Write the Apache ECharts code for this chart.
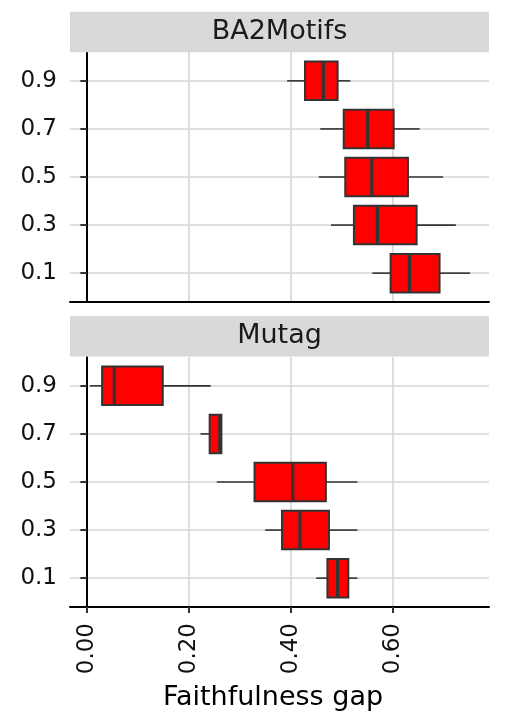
<!DOCTYPE html>
<html>
<head>
<meta charset="utf-8">
<script src="https://cdn.jsdelivr.net/npm/echarts@6/dist/echarts.min.js"></script>
<style>
html,body{margin:0;padding:0;background:#fff;}
#chart{width:507px;height:725px;}
</style>
</head>
<body>
<div id="chart"></div>
<script>
// Category labels (bottom to top)
const categories = ['0.1', '0.3', '0.5', '0.7', '0.9'];
const panels = ['BA2Motifs', 'Mutag'];
const xTicks = [0, 0.2, 0.4, 0.6];

// BA2Motifs boxplot stats, ordered as categories
const baLow    = [0.560, 0.479, 0.455, 0.458, 0.393];
const baQ1     = [0.596, 0.524, 0.507, 0.504, 0.428];
const baMedian = [0.633, 0.570, 0.559, 0.551, 0.464];
const baQ3     = [0.692, 0.647, 0.630, 0.602, 0.492];
const baHigh   = [0.752, 0.724, 0.699, 0.653, 0.517];

// Mutag boxplot stats, ordered as categories
const muLow    = [0.450, 0.350, 0.255, 0.223, 0.006];
const muQ1     = [0.472, 0.383, 0.329, 0.241, 0.030];
const muMedian = [0.492, 0.418, 0.404, 0.261, 0.054];
const muQ3     = [0.513, 0.475, 0.469, 0.264, 0.149];
const muHigh   = [0.531, 0.531, 0.531, 0.264, 0.243];

function rows(lo, q1, md, q3, hi) {
  return categories.map((c, i) => [i + 1, lo[i], q1[i], md[i], q3[i], hi[i]]);
}

const FONT = 'DejaVu Sans';
const BORDER = '#333333';
const GRID_COLOR = '#d6d6d6';

function renderBox(params, api) {
  const pos = api.value(0);
  const lo = api.value(1), q1 = api.value(2), md = api.value(3), q3 = api.value(4), hi = api.value(5);
  const h = api.size([0, 1])[1] * 0.8;
  const pLo = api.coord([lo, pos]);
  const pQ1 = api.coord([q1, pos]);
  const pMd = api.coord([md, pos]);
  const pQ3 = api.coord([q3, pos]);
  const pHi = api.coord([hi, pos]);
  const y = pQ1[1];
  const lineStyle = { stroke: BORDER, lineWidth: 1.6 };
  return {
    type: 'group',
    children: [
      { type: 'line', shape: { x1: pLo[0], y1: y, x2: pQ1[0], y2: y }, style: lineStyle },
      { type: 'line', shape: { x1: pQ3[0], y1: y, x2: pHi[0], y2: y }, style: lineStyle },
      { type: 'rect', shape: { x: pQ1[0], y: y - h / 2, width: pQ3[0] - pQ1[0], height: h },
        style: { fill: '#ff0000', stroke: BORDER, lineWidth: 2 } },
      { type: 'line', shape: { x1: pMd[0], y1: y - h / 2, x2: pMd[0], y2: y + h / 2 },
        style: { stroke: BORDER, lineWidth: 3.3 } }
    ]
  };
}

const grids = [
  { left: 70, right: 18, top: 52, height: 250 },
  { left: 70, right: 18, top: 357, height: 250 }
];

function xAxis(idx, showLabels) {
  return {
    type: 'value', gridIndex: idx, min: -0.033, max: 0.789,
    axisLine: { show: true, lineStyle: { color: '#000', width: 2 } },
    axisTick: { show: showLabels, length: 6, customValues: xTicks, lineStyle: { color: '#333', width: 2 } },
    axisLabel: { show: showLabels, customValues: xTicks, rotate: 90, margin: 16,
      fontFamily: FONT, fontSize: 23, color: '#111',
      formatter: v => v.toFixed(2) },
    splitLine: { show: true, lineStyle: { color: GRID_COLOR, width: 1.6 } }
  };
}

function yAxis(idx) {
  const vals = categories.map((c, i) => i + 1);
  return {
    type: 'value', gridIndex: idx, min: 0.4, max: 5.6,
    axisLine: { show: true, lineStyle: { color: '#000', width: 2 } },
    axisTick: { show: true, length: 6.5, customValues: vals, lineStyle: { color: '#333', width: 2 } },
    axisLabel: { show: true, customValues: vals, margin: 13, fontFamily: FONT, fontSize: 23, color: '#111',
      formatter: v => categories[Math.round(v) - 1] },
    splitLine: { show: true, lineStyle: { color: GRID_COLOR, width: 1.6 } }
  };
}

function strip(top, text) {
  return [
    { type: 'rect', left: 70, top: top, shape: { width: 419, height: 40.6 }, style: { fill: '#d9d9d9' }, z: 10 },
    { type: 'text', x: 279.5, y: top + 20.3, style: { text: text, fill: '#1a1a1a', font: '27px "DejaVu Sans"',
      align: 'center', verticalAlign: 'middle' }, z: 11 }
  ];
}

const chart = echarts.init(document.getElementById('chart'), null, { renderer: 'canvas' });
chart.setOption({
  animation: false,
  backgroundColor: '#ffffff',
  grid: grids,
  xAxis: [xAxis(0, false), xAxis(1, true)],
  yAxis: [yAxis(0), yAxis(1)],
  graphic: [
    ...strip(11.7, panels[0]),
    ...strip(316, panels[1]),
    { type: 'text', x: 273, y: 698, style: { text: 'Faithfulness gap', fill: '#000', font: '27px "DejaVu Sans"',
      align: 'center', verticalAlign: 'middle' } }
  ],
  series: [
    { type: 'custom', xAxisIndex: 0, yAxisIndex: 0, renderItem: renderBox,
      encode: { x: [1, 2, 3, 4, 5], y: 0 }, data: rows(baLow, baQ1, baMedian, baQ3, baHigh), z: 5 },
    { type: 'custom', xAxisIndex: 1, yAxisIndex: 1, renderItem: renderBox,
      encode: { x: [1, 2, 3, 4, 5], y: 0 }, data: rows(muLow, muQ1, muMedian, muQ3, muHigh), z: 5 }
  ]
});
</script>
</body>
</html>
